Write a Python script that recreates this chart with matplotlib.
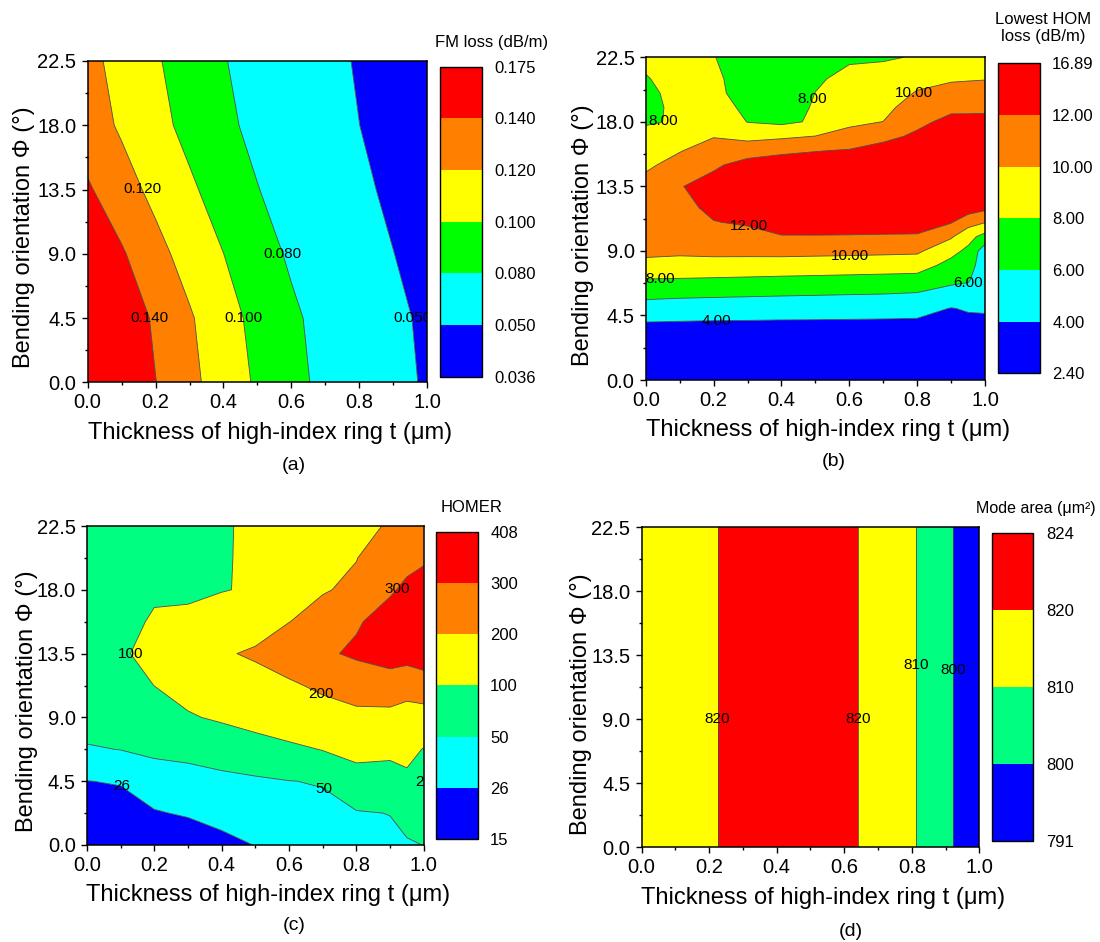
import numpy as np
import matplotlib
matplotlib.use("Agg")
import matplotlib.pyplot as plt

plt.rcParams['font.family'] = ['Liberation Sans', 'DejaVu Sans']

# ---------------- data ----------------
# (a) FM loss (dB/m): rows = bending orientation, columns = thickness
t_a = [0.0, 0.1, 0.2, 0.3, 0.4, 0.5, 0.6, 0.7, 0.8, 0.9, 1.0]
phi_a = [0.0, 4.5, 9.0, 13.5, 18.0, 22.5]
fm_loss = [
    [0.174, 0.158, 0.1404, 0.1250, 0.1107, 0.0974, 0.0857, 0.0752, 0.0659, 0.0567, 0.0474],
    [0.171, 0.1536, 0.1370, 0.1221, 0.1075, 0.0946, 0.0834, 0.0735, 0.0643, 0.0551, 0.0458],
    [0.1592, 0.1422, 0.1261, 0.1123, 0.1001, 0.0882, 0.0772, 0.0683, 0.0593, 0.0503, 0.0414],
    [0.1424, 0.1280, 0.1148, 0.1030, 0.0917, 0.0806, 0.0717, 0.0630, 0.0543, 0.0456, 0.0368],
    [0.1294, 0.1174, 0.1058, 0.0947, 0.0842, 0.0750, 0.0667, 0.0583, 0.0501, 0.0417, 0.0365],
    [0.1254, 0.1136, 0.1020, 0.0914, 0.0810, 0.0726, 0.0644, 0.0562, 0.0480, 0.0398, 0.0362],
]
levels_a = [0.036, 0.050, 0.080, 0.100, 0.120, 0.140, 0.175]
cb_labels_a = ['0.036', '0.050', '0.080', '0.100', '0.120', '0.140', '0.175']

# (b) lowest HOM loss (dB/m): one list per thickness value (bottom -> top)
t_b = [0.0, 0.1, 0.2, 0.3, 0.4, 0.5, 0.6, 0.7, 0.8, 0.9, 0.95, 1.0]
phi_b = [0, 4, 5, 6, 7, 8, 9, 10, 11, 12, 13.5, 15, 16, 17, 18, 19, 20, 21, 22.5]
hom_t000 = [2.6, 3.95, 5.17, 6.54, 7.92, 9.61, 10.33, 10.75, 11.18, 11.6, 10.64, 9.68, 9.05, 8.42, 7.85, 7.42, 7.41, 7.83, 8.6]
hom_t010 = [2.6, 3.90, 5.0, 6.43, 7.86, 9.5, 10.26, 10.63, 11.0, 11.37, 11.9, 10.64, 9.9, 9.3, 8.15, 8.5, 8.8, 9.0, 8.7]
hom_t020 = [2.5, 3.86, 4.89, 6.36, 7.79, 9.36, 10.44, 11.19, 11.93, 12.47, 12.71, 11.71, 10.76, 9.91, 9.48, 9.04, 8.6, 8.38, 8.05]
hom_t030 = [2.5, 3.85, 4.81, 6.29, 7.71, 9.28, 10.48, 11.34, 12.24, 13.22, 14.28, 12.65, 11.2, 9.38, 7.95, 7.48, 7.0, 7.12, 7.3]
hom_t040 = [2.45, 3.83, 4.74, 6.21, 7.64, 9.15, 10.58, 11.87, 13.09, 14.29, 14.88, 13.0, 11.6, 9.65, 7.6, 7.3, 7.0, 7.08, 7.2]
hom_t050 = [2.45, 3.82, 4.70, 6.14, 7.57, 9.08, 10.53, 11.87, 13.18, 14.49, 15.16, 13.22, 11.9, 10.02, 8.25, 8.15, 8.02, 7.8, 7.4]
hom_t060 = [2.45, 3.81, 4.64, 6.07, 7.5, 9.0, 10.48, 11.84, 13.14, 14.44, 15.59, 13.52, 12.14, 10.5, 9.70, 9.26, 8.83, 8.39, 7.8]
hom_t070 = [2.45, 3.80, 4.59, 6.01, 7.43, 8.92, 10.41, 11.79, 13.10, 14.39, 16.07, 14.1, 12.79, 11.43, 10.02, 9.53, 9.07, 8.60, 7.85]
hom_t080 = [2.5, 3.79, 4.48, 5.86, 7.34, 8.84, 10.33, 11.76, 13.01, 14.23, 16.06, 14.75, 13.55, 12.36, 11.52, 10.83, 10.14, 9.44, 8.1]
hom_t090 = [2.5, 3.67, 3.96, 5.26, 6.47, 7.40, 8.57, 10.24, 12.13, 13.38, 15.25, 15.94, 14.81, 13.69, 12.56, 11.55, 10.64, 9.8, 8.8]
hom_t095 = [2.5, 3.72, 4.11, 5.22, 6.21, 6.9, 7.59, 8.67, 10.8, 12.98, 15.09, 15.94, 14.81, 13.69, 12.56, 11.57, 10.7, 9.87, 8.9]
hom_t100 = [2.45, 3.77, 4.13, 4.4, 4.6, 4.8, 4.9, 7.3, 10.08, 12.45, 15.06, 16.2, 15.0, 13.8, 12.6, 11.58, 10.75, 9.93, 8.9]
levels_b = [2.40, 4.00, 6.00, 8.00, 10.00, 12.00, 16.89]
cb_labels_b = ['2.40', '4.00', '6.00', '8.00', '10.00', '12.00', '16.89']

# (c) HOMER: one list per thickness value (bottom -> top)
t_c = [0.0, 0.1, 0.2, 0.3, 0.4, 0.5, 0.6, 0.7, 0.8, 0.9, 0.95, 1.0]
phi_c = [0.0, 2.25, 4.5, 6.75, 9.0, 11.25, 13.5, 15.75, 18.0, 20.25, 22.5]
homer_t000 = [16, 20.9, 25.8, 47.8, 60.9, 72.9, 85, 82, 78, 74, 70]
homer_t010 = [15.5, 21.3, 26.8, 50.5, 65.4, 80.2, 95, 90, 84, 79, 75]
homer_t020 = [15.2, 24.8, 35, 56.1, 78.3, 100.3, 112, 103.6, 95.5, 87.8, 80]
homer_t030 = [16, 27.6, 37, 60, 95.3, 118.4, 140, 104, 96.7, 90.9, 85]
homer_t040 = [20, 33.2, 42, 66, 107.0, 148.5, 190, 139.4, 96.7, 90, 90]
homer_t050 = [26.5, 36.8, 45, 76, 121.7, 165.8, 212, 160, 108, 120, 118]
homer_t060 = [30, 39.7, 49.3, 88.6, 136.4, 186.6, 250, 198.7, 179.1, 159.6, 140]
homer_t070 = [33, 42.4, 52, 102, 158.3, 217.4, 285, 231.9, 194.2, 179.6, 165]
homer_t080 = [38, 47.7, 76.1, 117.8, 177.5, 241.8, 315, 290, 215, 198, 185]
homer_t090 = [44, 50.6, 78.0, 111.9, 172.9, 256.8, 339.6, 339.8, 288.8, 246.9, 205]
homer_t095 = [46, 63.6, 86.3, 119.0, 167.0, 232, 340, 372.2, 319, 272.6, 230]
homer_t100 = [50.5, 65.7, 81.4, 97.1, 157.7, 258.3, 346.7, 398.6, 341, 286.6, 240]
levels_c = [15, 26, 50, 100, 200, 300, 408]
cb_labels_c = ['15', '26', '50', '100', '200', '300', '408']

# (d) mode area (um^2): independent of bending orientation
t_d = [0.0, 0.1, 0.2, 0.3, 0.4, 0.5, 0.6, 0.7, 0.8, 0.9, 1.0]
phi_d = [0.0, 22.5]
mode_area = [817, 818.5, 819.5, 821.5, 823, 823.2, 821.3, 818.2, 811, 802.3, 791.5]
levels_d = [791, 800, 810, 820, 824]
cb_labels_d = ['791', '800', '810', '820', '824']

RED, ORANGE, YELLOW = '#ff0000', '#ff8000', '#ffff00'
GREEN, SPRING, CYAN, BLUE = '#00ff00', '#00ff80', '#00ffff', '#0000ff'
colors_a = [BLUE, CYAN, GREEN, YELLOW, ORANGE, RED]
colors_c = [BLUE, CYAN, SPRING, YELLOW, ORANGE, RED]
colors_d = [BLUE, SPRING, YELLOW, RED]

# label positions (data coords)
lab_a = [(0.16, 13.5), (0.178, 4.5), (0.46, 4.5), (0.577, 9.0), (0.955, 4.5)]
lab_b = [(0.457, 19.9), (0.80, 19.65), (0.075, 18.0), (0.298, 10.17),
         (0.601, 8.77), (0.042, 6.9), (0.209, 4.44), (0.951, 6.62)]
lab_c = [(0.132, 13.5), (0.698, 10.8), (0.924, 18.0), (0.70, 3.83), (0.10, 4.04)]
lab_d = [(0.2245, 9.0), (0.642, 9.0), (0.813, 12.8), (0.921, 12.5)]

# ---------------- figure ----------------
W, H = 1100, 942
fig = plt.figure(figsize=(W / 100, H / 100), dpi=100)


def rect(box):
    l, t, r, b = box
    return [l / W, 1 - b / H, (r - l) / W, (b - t) / H]


def ax_frac(box, px, py):
    l, t, r, b = box
    return (px - l) / (r - l), (b - py) / (b - t)


XLABEL = 'Thickness of high-index ring t (\u03bcm)'
YLABEL = 'Bending orientation \u03a6 (\u00b0)'


def panel(ax_box, cb_box, t, phi, z, levels, colors, cb_labels, fmt, lab_pos,
          cb_title, cb_title_xy, cb_title_size, sub, sub_xy, xl_xy, yl_xy):
    ax = fig.add_axes(rect(ax_box))
    cf = ax.contourf(t, phi, z, levels=levels, colors=colors, antialiased=True)
    cs = ax.contour(t, phi, z, levels=levels[1:-1], colors='#4a4a4a', linewidths=0.6)
    texts = ax.clabel(cs, manual=lab_pos, fmt=fmt, fontsize=11, inline=False, colors='black')
    for tx in texts:
        tx.set_rotation(0)
    ax.set_xlim(0, 1)
    ax.set_ylim(0, 22.5)
    ax.set_xticks([0, 0.2, 0.4, 0.6, 0.8, 1.0])
    ax.set_xticklabels(['0.0', '0.2', '0.4', '0.6', '0.8', '1.0'])
    ax.set_xticks([0.1, 0.3, 0.5, 0.7, 0.9], minor=True)
    ax.set_yticks([0, 4.5, 9, 13.5, 18, 22.5])
    ax.set_yticklabels(['0.0', '4.5', '9.0', '13.5', '18.0', '22.5'])
    ax.set_yticks([2.25, 6.75, 11.25, 15.75, 20.25], minor=True)
    ax.tick_params(which='major', direction='out', length=4, width=1, labelsize=14.5, pad=4)
    ax.tick_params(which='minor', direction='out', length=2.5, width=1)
    for sp in ax.spines.values():
        sp.set_linewidth(1.1)
    ax.set_xlabel(XLABEL, fontsize=17, va='center', ha='center')
    ax.xaxis.set_label_coords(*ax_frac(ax_box, *xl_xy))
    ax.set_ylabel(YLABEL, fontsize=17, va='center', ha='center')
    ax.yaxis.set_label_coords(*ax_frac(ax_box, *yl_xy))

    cax = fig.add_axes(rect(cb_box))
    cb = fig.colorbar(cf, cax=cax, ticks=levels, spacing='uniform')
    cb.ax.set_yticklabels(cb_labels)
    cb.ax.tick_params(length=0, labelsize=12, pad=9)
    cb.outline.set_linewidth(1.0)
    cb.outline.set_edgecolor('black')

    fig.text(cb_title_xy[0] / W, 1 - cb_title_xy[1] / H, cb_title, fontsize=cb_title_size,
             ha='center', va='center', linespacing=1.25)
    fig.text(sub_xy[0] / W, 1 - sub_xy[1] / H, sub, fontsize=14, ha='center', va='center')
    return ax


z_a = np.array(fm_loss)
z_b = np.array([hom_t000, hom_t010, hom_t020, hom_t030, hom_t040, hom_t050,
                hom_t060, hom_t070, hom_t080, hom_t090, hom_t095, hom_t100]).T
z_c = np.array([homer_t000, homer_t010, homer_t020, homer_t030, homer_t040, homer_t050,
                homer_t060, homer_t070, homer_t080, homer_t090, homer_t095, homer_t100]).T
z_d = np.array([mode_area, mode_area])

panel((87.6, 61, 427.3, 382.3), (439.7, 66.7, 481.6, 376.7), t_a, phi_a, z_a,
      levels_a, colors_a, cb_labels_a, '%.3f', lab_a,
      'FM loss (dB/m)', (492, 42), 12, '(a)', (294, 466), (270, 433), (24, 237))

panel((645.7, 57.3, 985.1, 380), (997.9, 63.3, 1039.7, 373.3), t_b, phi_b, z_b,
      levels_b, colors_a, cb_labels_b, '%.2f', lab_b,
      'Lowest HOM\nloss (dB/m)', (1043, 28), 12, '(b)', (834, 462), (828, 430), (583, 235))

ax_c = panel((86.9, 526, 423.8, 845), (436.2, 531.7, 477.7, 839), t_c, phi_c, z_c,
             levels_c, colors_c, cb_labels_c, '%d', lab_c,
             'HOMER', (472, 507), 12, '(c)', (294, 925), (268, 895), (27, 701))
ax_c.text(0.976, 4.47, '26', fontsize=11, ha='left', va='center', clip_on=True)

panel((641.5, 527.3, 979.4, 847.3), (991.8, 533.3, 1033.3, 841), t_d, phi_d, z_d,
      levels_d, colors_d, cb_labels_d, '%d', lab_d,
      'Mode area (\u03bcm\u00b2)', (1036, 509), 11.5, '(d)', (851, 931), (823, 898), (581, 704))

fig.savefig('out.png', dpi=100)
